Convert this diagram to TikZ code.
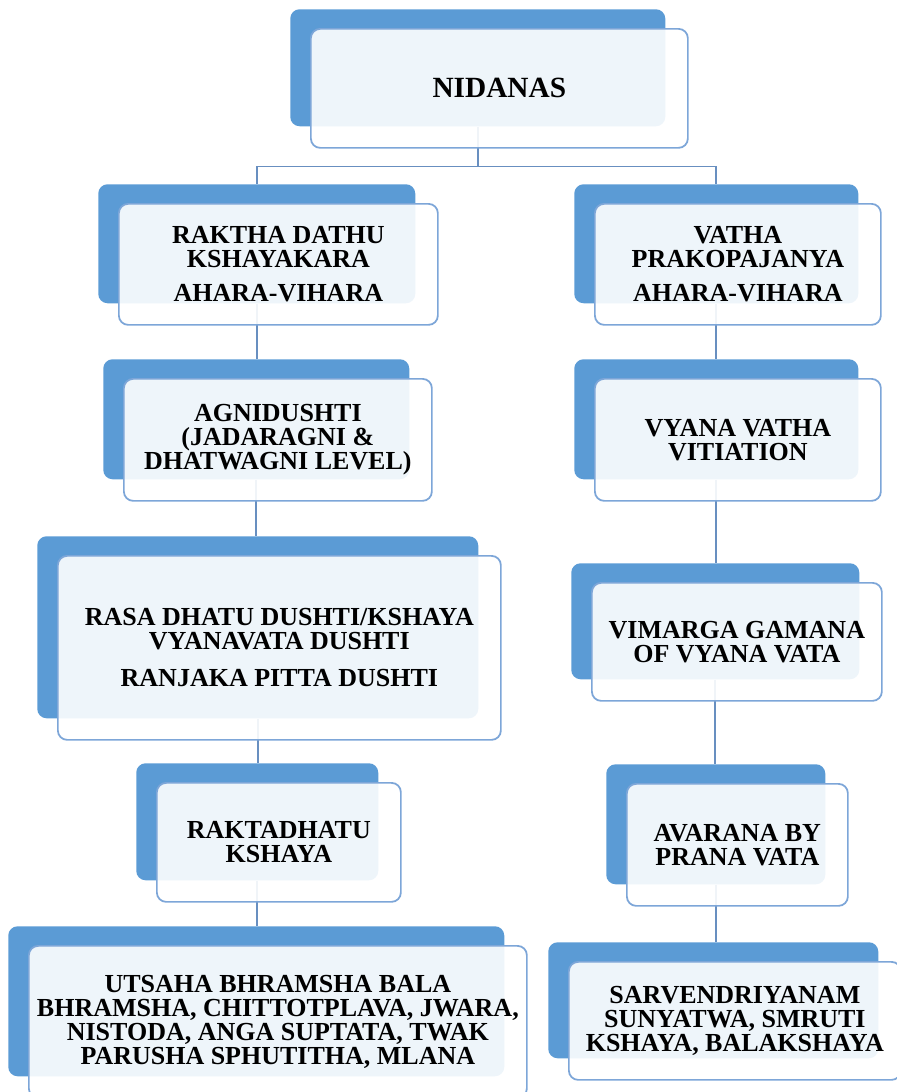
\documentclass[tikz,border=0pt]{standalone}
\usepackage{fontspec}
\setmainfont{Liberation Serif}
\usetikzlibrary{calc}

\definecolor{backBlue}{RGB}{91,155,213}
\definecolor{edgeBlue}{RGB}{125,166,216}
\definecolor{linkBlue}{RGB}{104,143,192}

\def\px{0.75pt}
\def\shiftX{20}
\def\shiftY{19}

\tikzset{
  backbox/.style={draw=none, fill=backBlue, rounded corners=7pt, anchor=north west, inner sep=0pt},
  frontbox/.style={draw=edgeBlue, line width=1.3pt, fill=white, fill opacity=0.9, text opacity=1,
    rounded corners=7pt, anchor=north west, inner sep=0pt, align=center,
    font=\fontsize{19.5}{17.8}\selectfont\bfseries},
  link/.style={draw=linkBlue, line width=1.2pt}
}

\pgfdeclarelayer{background}
\pgfsetlayers{background,main}

\begin{document}
\begin{tikzpicture}[x=\px,y=-\px]
    \useasboundingbox (0,0) rectangle (896,1092);

    \foreach \n/\x/\y/\w/\h/\txt in {
      nid/290/9/375/117/{\fontsize{22}{22}\selectfont NIDANAS},
      rak/98/184/317/119/{RAKTHA DATHU\\KSHAYAKARA\\[8pt]AHARA-VIHARA},
      vat/574/184/284/119/{VATHA\\PRAKOPAJANYA\\[8pt]AHARA-VIHARA},
      agn/103/359/306/120/{AGNIDUSHTI\\(JADARAGNI \&\\DHATWAGNI LEVEL)},
      vya/574/359/284/120/{VYANA VATHA\\VITIATION},
      ras/37/536/441/182/{RASA DHATU DUSHTI/KSHAYA\\VYANAVATA DUSHTI\\[10pt]RANJAKA PITTA DUSHTI},
      vim/571/563/288/116/{VIMARGA GAMANA\\OF VYANA VATA},
      rkt/136/763/242/117/{RAKTADHATU\\KSHAYA},
      ava/606/764/219/120/{AVARANA BY\\PRANA VATA},
      uts/8/926/496/150/{UTSAHA BHRAMSHA BALA\\BHRAMSHA, CHITTOTPLAVA, JWARA,\\NISTODA, ANGA SUPTATA, TWAK\\PARUSHA SPHUTITHA, MLANA},
      sar/548/942/330/116/{SARVENDRIYANAM\\SUNYATWA, SMRUTI\\KSHAYA, BALAKSHAYA}} {
      \node[backbox, minimum width=\w*\px, minimum height=\h*\px] (\n-b) at (\x,\y) {};
      \node[frontbox, minimum width=\w*\px+2*\px, minimum height=\h*\px+2*\px] (\n) at (\x+\shiftX,\y+\shiftY) {\txt};
    }

    \begin{pgfonlayer}{background}
      \coordinate (fork) at ($(nid-b.south)+(0,40)$);
      \draw[link] (nid-b.south) -- (fork) -| (rak-b.north);
      \draw[link] (fork) -| (vat-b.north);
      \foreach \a/\b in {rak/agn,agn/ras,ras/rkt,rkt/uts,vat/vya,vya/vim,vim/ava,ava/sar} {
        \draw[link] (\a-b.south) -- (\a-b.south |- \b-b.north);
      }
    \end{pgfonlayer}
\end{tikzpicture}
\end{document}
